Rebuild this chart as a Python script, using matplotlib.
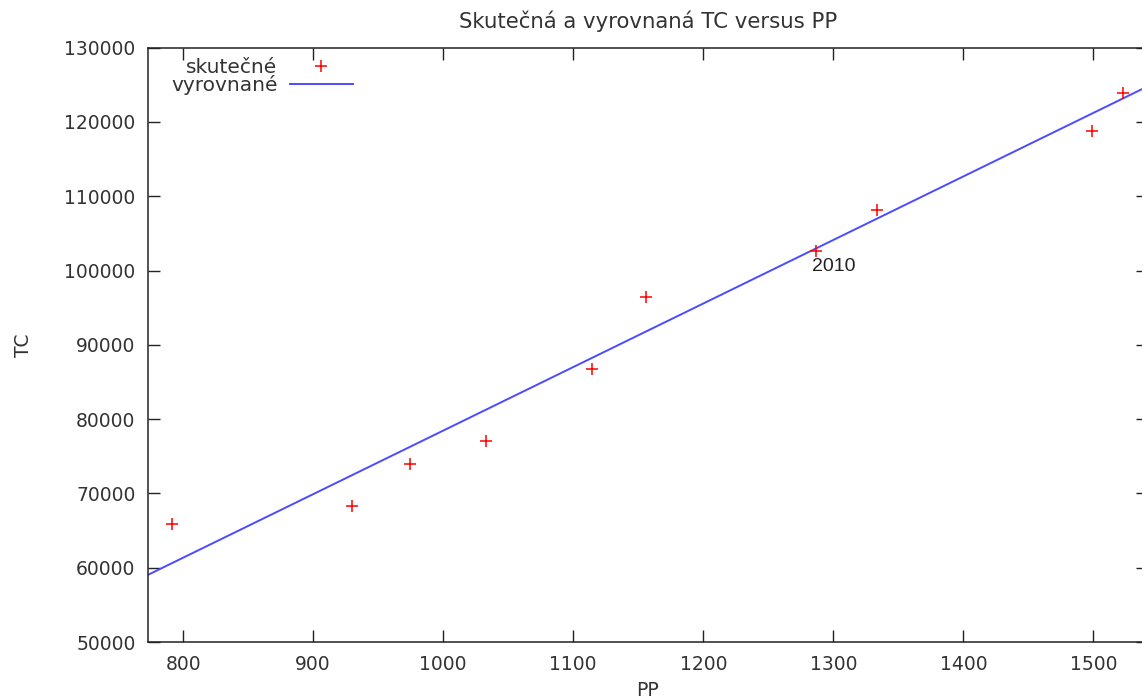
import matplotlib
matplotlib.use("Agg")
import matplotlib.pyplot as plt
import numpy as np

# observed values (skutečné)
pp = [791.3, 929.8, 974.4, 1032.8, 1114.6, 1155.7, 1286.5, 1333.8, 1498.8, 1522.6]
tc = [65920, 68350, 73960, 77060, 86750, 96400, 102670, 108150, 118780, 123940]

# fitted line (vyrovnané): TC = a + b * PP
fit_a = -7085.0
fit_b = 85.54

label_year = "2010"
label_pos = (1283.6, 100600)

xlim = (773, 1542)
ylim = (50000, 130000)
xticks = [800, 900, 1000, 1100, 1200, 1300, 1400, 1500]
yticks = [50000, 60000, 70000, 80000, 90000, 100000, 110000, 120000, 130000]

plt.rcParams["font.family"] = ["DejaVu Sans"]
txt_color = "#333333"

fig = plt.figure(figsize=(11.42, 6.99), dpi=100)
ax = fig.add_axes([148 / 1142, 57 / 699, 1000 / 1142, 594.3 / 699])

xs = np.array(xlim, dtype=float)
ax.plot(pp, tc, linestyle="none", marker="+", color="#ff0000", markersize=8.6,
        markeredgewidth=1.1, label="skutečné", zorder=3)
ax.plot(xs, fit_a + fit_b * xs, color="#4b4bff", linewidth=1.4, label="vyrovnané", zorder=2)

ax.text(label_pos[0], label_pos[1], label_year, fontsize=14, family="Liberation Sans",
        color="#222222", ha="left", va="center")

ax.set_xlim(*xlim)
ax.set_ylim(*ylim)
ax.set_xticks(xticks)
ax.set_yticks(yticks)
ax.tick_params(direction="in", length=8.6, width=1.0, top=True, right=True,
               labelsize=13.5, labelcolor=txt_color, color="#222222", pad=9)
for s in ax.spines.values():
    s.set_linewidth(1.1)
    s.set_color("#222222")

ax.set_title("Skutečná a vyrovnaná TC versus PP", fontsize=15.3, color=txt_color, pad=14)
ax.set_xlabel("PP", fontsize=13.5, color=txt_color)
ax.set_ylabel("TC", fontsize=13.5, color=txt_color)
ax.xaxis.set_label_coords(0.5, -0.066)
ax.yaxis.set_label_coords(-0.115, 0.5)

ax.legend(loc="upper left", bbox_to_anchor=(0.009, 1.006), frameon=False, markerfirst=False,
          fontsize=14.5, handlelength=3.15, handletextpad=0.6, labelspacing=-0.1,
          borderaxespad=0.3, labelcolor=txt_color)

fig.savefig("out.png", dpi=100)
